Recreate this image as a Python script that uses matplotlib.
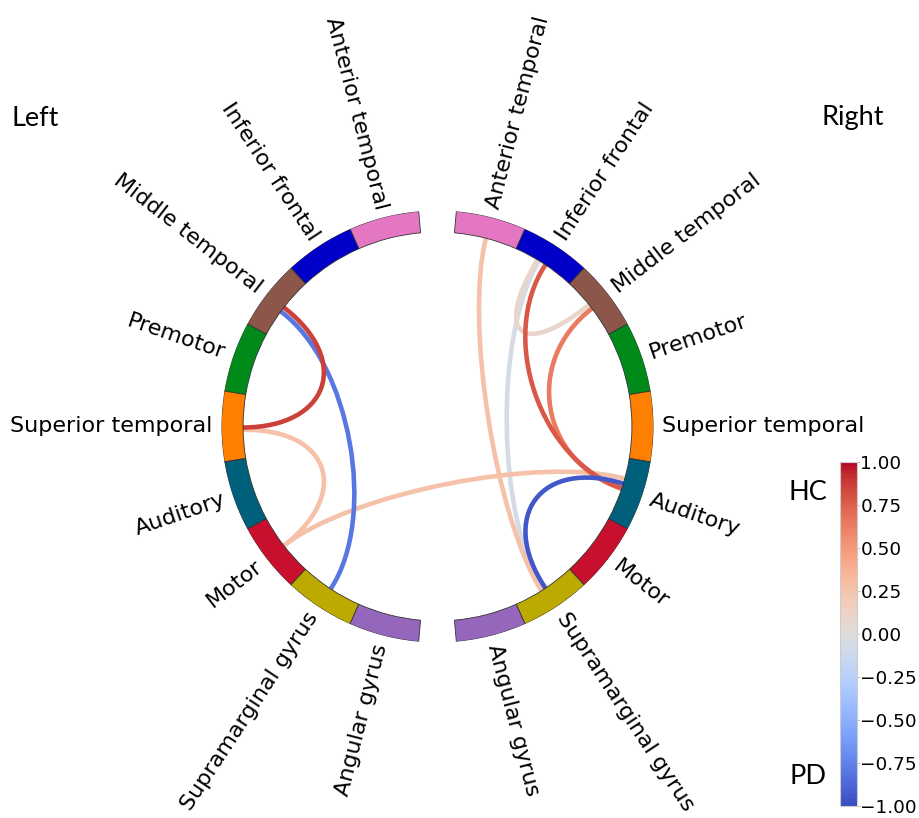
import numpy as np
import matplotlib
matplotlib.use("Agg")
import matplotlib.pyplot as plt
from matplotlib.path import Path
from matplotlib.patches import PathPatch
from matplotlib import cm, colors as mcolors
from matplotlib.ticker import FuncFormatter

# Regions in each hemisphere, listed from the top gap down to the bottom gap
regions = ["Anterior temporal", "Inferior frontal", "Middle temporal", "Premotor",
           "Superior temporal", "Auditory", "Motor", "Supramarginal gyrus",
           "Angular gyrus"]
region_colors = ["#e377c2", "#0000c8", "#8c564b", "#008a1a", "#ff7f00",
                 "#005f7a", "#c8102e", "#bdaa00", "#9467bd"]

# Connections: (hemisphere, region) -> (hemisphere, region), signed strength
con_from = [("L", "Middle temporal"), ("L", "Middle temporal"), ("L", "Superior temporal"),
            ("L", "Motor"), ("R", "Anterior temporal"), ("R", "Inferior frontal"),
            ("R", "Inferior frontal"), ("R", "Inferior frontal"), ("R", "Middle temporal"),
            ("R", "Supramarginal gyrus")]
con_to = [("L", "Superior temporal"), ("L", "Supramarginal gyrus"), ("L", "Motor"),
          ("R", "Auditory"), ("R", "Supramarginal gyrus"), ("R", "Supramarginal gyrus"),
          ("R", "Auditory"), ("R", "Middle temporal"), ("R", "Auditory"),
          ("R", "Auditory")]
con_values = [0.86, -0.80, 0.27, 0.27, 0.27, -0.06, 0.78, 0.10, 0.64, -0.95]

# Small endpoint spread within a node (degrees) so lines sharing a node separate
start_jitter = [0.0, 1.5, 1.0, 0.0, 0.0, 1.8, -0.4, 2.4, -0.4, 0.4]
end_jitter = [0.3, 0.0, 0.0, 3.3, -1.0, -0.3, 0.4, 1.0, 0.2, 1.8]

cbar_ticks = [1.00, 0.75, 0.50, 0.25, 0.00, -0.25, -0.50, -0.75, -1.00]

# Circular layout: two hemispheres separated by gaps at top and bottom
group_sep = 10.0
n_side = len(regions)
node_sep = (360.0 - 2 * group_sep) / (2 * n_side)
right_deg = [90 - group_sep / 2 - node_sep * (k + 0.5) for k in range(n_side)]
left_deg = [90 + group_sep / 2 + node_sep * (k + 0.5) for k in range(n_side)]
angle_of = {}
for k, name in enumerate(regions):
    angle_of[("R", name)] = right_deg[k]
    angle_of[("L", name)] = left_deg[k]

fig = plt.figure(figsize=(9.2, 8.18), dpi=100)
fig.patch.set_facecolor("white")

R_px = 216.0
cx, cy = 437.5, 426.5
ax = fig.add_axes([(cx - R_px) / 920, (818 - cy - R_px) / 818, 2 * R_px / 920, 2 * R_px / 818],
                  projection="polar")
ax.set_ylim(0, 10)
ax.set_xticks([])
ax.set_yticks([])
ax.grid(False)
ax.spines["polar"].set_visible(False)
ax.set_facecolor("white")

# Node bars
all_deg = right_deg + left_deg
all_colors = region_colors + region_colors
ax.bar(np.deg2rad(all_deg), np.ones(len(all_deg)), width=np.deg2rad(node_sep),
       bottom=9, color=all_colors, edgecolor="#333333", linewidth=0.6, align="center",
       zorder=3)

# Node labels, flipped on the left so text stays upright
for side, degs in (("R", right_deg), ("L", left_deg)):
    for name, deg in zip(regions, degs):
        d = deg % 360
        if d >= 270 or d < 90:
            rot, ha = d, "left"
        else:
            rot, ha = d + 180, "right"
        ax.text(np.deg2rad(deg), 10.4, name, fontsize=16, rotation=rot,
                rotation_mode="anchor", ha=ha, va="center", color="black",
                family="DejaVu Sans")

# Connection curves, weakest first so the strongest are drawn on top
cmap = plt.get_cmap("coolwarm")
norm = mcolors.Normalize(vmin=-1, vmax=1)
order = np.argsort(np.abs(con_values))
for i in order:
    t0 = np.deg2rad(angle_of[con_from[i]] + start_jitter[i])
    t1 = np.deg2rad(angle_of[con_to[i]] + end_jitter[i])
    verts = [(t0, 9), (t0, 5), (t1, 5), (t1, 9)]
    codes = [Path.MOVETO, Path.CURVE4, Path.CURVE4, Path.CURVE4]
    ax.add_patch(PathPatch(Path(verts, codes), fill=False,
                           edgecolor=cmap(norm(con_values[i])), linewidth=3.3,
                           capstyle="round", zorder=2))

# Hemisphere titles
fig.text(12 / 920, 1 - 118 / 818, "Left", fontsize=19.5, family="Lato", ha="left", va="center")
fig.text(884 / 920, 1 - 118 / 818, "Right", fontsize=19.5, family="Lato", ha="right", va="center")

# Colorbar
cax = fig.add_axes([840 / 920, 12 / 818, 17 / 920, 344 / 818])
sm = cm.ScalarMappable(norm=norm, cmap=cmap)
cb = fig.colorbar(sm, cax=cax, ticks=cbar_ticks,
                  format=FuncFormatter(lambda v, p: f"{v:.2f}".replace("-", "\u2212")))
cb.outline.set_edgecolor("#cccccc")
cb.outline.set_linewidth(0.8)
cax.tick_params(labelsize=13.3, length=2, width=0.6, color="#bbbbbb", pad=0.5)
fig.text(808 / 920, 1 - 492 / 818, "HC", fontsize=19.5, family="Lato", ha="center", va="center")
fig.text(808 / 920, 1 - 777 / 818, "PD", fontsize=19.5, family="Lato", ha="center", va="center")

fig.savefig("out.png", dpi=100, facecolor="white")
